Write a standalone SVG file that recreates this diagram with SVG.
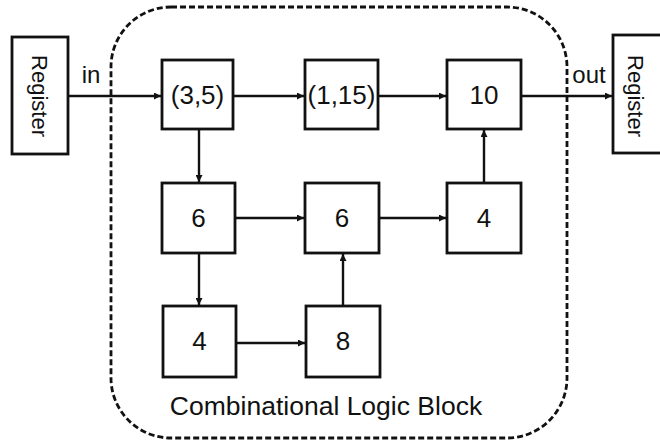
<svg xmlns="http://www.w3.org/2000/svg" width="660" height="442" viewBox="0 0 660 442">
<defs>
<marker id="ah" viewBox="0 0 10 10" refX="10" refY="5" markerWidth="9" markerHeight="7" markerUnits="userSpaceOnUse" orient="auto">
<path d="M0,0 L10,5 L0,10 z" fill="#111"/>
</marker>
</defs>
<style>
.box{fill:#fff;stroke:#111;stroke-width:2.8}
.lbl{font-family:"Liberation Sans",Arial,sans-serif;font-size:26px;fill:#111;text-anchor:middle}
.reg{font-family:"Liberation Sans",Arial,sans-serif;font-size:22px;fill:#111;text-anchor:middle}
.edge{stroke:#111;stroke-width:2.4;fill:none;marker-end:url(#ah)}
.bound{fill:none;stroke:#111;stroke-width:2.8;stroke-dasharray:6 3}
</style>
<rect width="660" height="442" fill="#fff"/>
<g id="boundary">
<rect class="bound" x="111" y="7" width="456" height="431" rx="60" ry="60"/>
<text class="lbl" x="326" y="415" style="font-size:26.5px">Combinational Logic Block</text>
</g>
<g id="reg-in">
<rect class="box" x="12" y="37" width="56" height="117"/>
<text class="reg" transform="translate(32,96) rotate(90)">Register</text>
</g>
<g id="reg-out">
<rect class="box" x="613" y="35" width="60" height="118"/>
<text class="reg" transform="translate(628,96) rotate(90)">Register</text>
</g>
<g id="n35"><rect class="box" x="162" y="60" width="71" height="69"/><text class="lbl" x="197.5" y="104">(3,5)</text></g>
<g id="n115"><rect class="box" x="305" y="60" width="73" height="69"/><text class="lbl" x="341.5" y="104">(1,15)</text></g>
<g id="n10"><rect class="box" x="447" y="60" width="74" height="69"/><text class="lbl" x="484" y="104">10</text></g>
<g id="n6a"><rect class="box" x="162" y="183" width="73" height="70"/><text class="lbl" x="198.5" y="227">6</text></g>
<g id="n6b"><rect class="box" x="305" y="183" width="74" height="70"/><text class="lbl" x="342" y="227">6</text></g>
<g id="n4a"><rect class="box" x="447" y="183" width="74" height="70"/><text class="lbl" x="484" y="227">4</text></g>
<g id="n4b"><rect class="box" x="163" y="306" width="73" height="71"/><text class="lbl" x="199.5" y="350">4</text></g>
<g id="n8"><rect class="box" x="306" y="306" width="74" height="71"/><text class="lbl" x="343" y="350">8</text></g>
<g id="connectors">
<line class="edge" x1="68" y1="96" x2="161" y2="96"/>
<line class="edge" x1="233" y1="96" x2="304" y2="96"/>
<line class="edge" x1="378" y1="96" x2="446" y2="96"/>
<line class="edge" x1="521" y1="96" x2="612" y2="96"/>
<line class="edge" x1="199" y1="129" x2="199" y2="182"/>
<line class="edge" x1="235" y1="218" x2="304" y2="218"/>
<line class="edge" x1="379" y1="218" x2="446" y2="218"/>
<line class="edge" x1="199" y1="253" x2="199" y2="305"/>
<line class="edge" x1="236" y1="343" x2="305" y2="343"/>
<line class="edge" x1="343" y1="306" x2="343" y2="254"/>
<line class="edge" x1="484" y1="183" x2="484" y2="130"/>
<text class="lbl" x="91" y="83" style="font-size:24px">in</text>
<text class="lbl" x="589" y="83" style="font-size:24px">out</text>
</g>
</svg>
